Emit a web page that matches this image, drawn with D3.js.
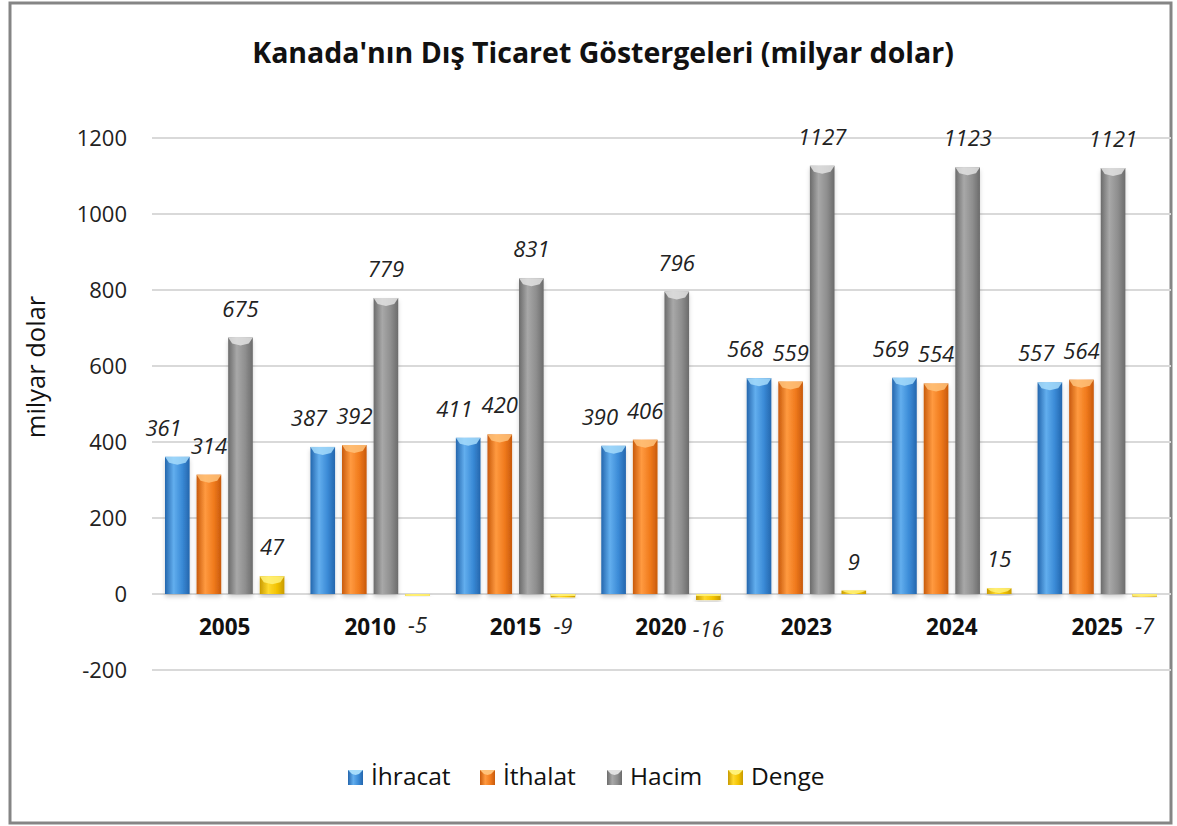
<!DOCTYPE html>
<html><head><meta charset="utf-8">
<script src="https://cdn.jsdelivr.net/npm/d3@7"></script>
<style>body{margin:0;background:#fff;}svg{display:block;}</style>
</head><body>
<script>
const categories = ["2005","2010","2015","2020","2023","2024","2025"];
const seriesNames = ["İhracat","İthalat","Hacim","Denge"];
const ihracat = [361,387,411,390,568,569,557];
const ithalat = [314,392,420,406,559,554,564];
const hacim = [675,779,831,796,1127,1123,1121];
const denge = [47,-5,-9,-16,9,15,-7];
const yTicks = [-200,0,200,400,600,800,1000,1200];
const seriesValues = [ihracat, ithalat, hacim, denge];

const colors = [
  {base:"#3a8ad6", dark:"#2466ad", light:"#62aeee", top:"#a6dcfb"},
  {base:"#f07a1c", dark:"#c85a0c", light:"#ff9a40", top:"#ffc27a"},
  {base:"#8e8e8e", dark:"#6b6b6b", light:"#a8a8a8", top:"#e2e2e2"},
  {base:"#f2c200", dark:"#c89a00", light:"#ffd92e", top:"#fff27a"}
];

const W=1177,H=826;
const svg=d3.select("body").append("svg").attr("width",W).attr("height",H);
const defs=svg.append("defs");
colors.forEach((c,i)=>{
  const g=defs.append("linearGradient").attr("id","g"+i).attr("x1","0").attr("x2","1").attr("y1","0").attr("y2","0");
  g.append("stop").attr("offset","0%").attr("stop-color",c.dark);
  g.append("stop").attr("offset","35%").attr("stop-color",c.light);
  g.append("stop").attr("offset","70%").attr("stop-color",c.base);
  g.append("stop").attr("offset","100%").attr("stop-color",c.dark);
});
const f=defs.append("filter").attr("id","sh").attr("x","-20%").attr("y","-20%").attr("width","140%").attr("height","140%");
f.append("feDropShadow").attr("dx",0).attr("dy",3).attr("stdDeviation",2).attr("flood-color","#000").attr("flood-opacity",0.18);

// border
svg.append("rect").attr("x",10).attr("y",3).attr("width",1161).attr("height",820)
  .attr("fill","#fff").attr("stroke","#858585").attr("stroke-width",3);

const font="Open Sans, Noto Sans, sans-serif";

svg.append("text").attr("x",603).attr("y",63).attr("text-anchor","middle")
  .attr("font-family",font).attr("font-weight","bold").attr("font-size",28.5).attr("fill","#111")
  .text("Kanada'nın Dış Ticaret Göstergeleri (milyar dolar)");

const y=d3.scaleLinear().domain([-200,1200]).range([670,138]);
const x0=d3.scaleBand().domain(categories).range([152,1170]).padding(0);
const x1=d3.scaleBand().domain(seriesNames).range([13,132.4]).paddingInner(0.22).paddingOuter(0);

// grid
svg.append("g").selectAll("line").data(yTicks).join("line")
  .attr("x1",152).attr("x2",1171).attr("y1",d=>y(d)).attr("y2",d=>y(d))
  .attr("stroke","#d9d9d9").attr("stroke-width",2);

// y axis
const yAxis=d3.axisLeft(y).tickValues(yTicks).tickFormat(d=>String(d)).tickSize(0).tickPadding(0);
const ga=svg.append("g").attr("transform","translate(127,0)").call(yAxis);
ga.select(".domain").remove();
ga.selectAll("text").attr("font-family",font).attr("font-size",22).attr("fill","#222").attr("dy","0.36em");

svg.append("text").attr("transform","translate(45,367) rotate(-90)").attr("text-anchor","middle")
  .attr("font-family",font).attr("font-size",25.5).attr("fill","#111").text("milyar dolar");

// bars
const groups=svg.append("g").selectAll("g").data(categories).join("g")
  .attr("transform",d=>`translate(${x0(d)},0)`);
const labelRefs=categories.map(()=>[]);
seriesNames.forEach((s,si)=>{
  groups.each(function(cat,ci){
    const v=seriesValues[si][ci];
    const g=d3.select(this);
    const bx=x1(s), bw=x1.bandwidth();
    const top=Math.min(y(v),y(0)), h=Math.abs(y(v)-y(0));
    g.append("rect").attr("x",bx).attr("y",top).attr("width",bw).attr("height",Math.max(h,2))
      .attr("fill",`url(#g${si})`).attr("filter","url(#sh)");
    const bh=Math.min(6,h/2);
    if(v>=0){
      g.append("path").attr("d",`M${bx},${top} L${bx+bw},${top} L${bx+bw-4},${top+bh} L${bx+bw/2},${top+bh+2} L${bx+4},${top+bh} Z`)
        .attr("fill",colors[si].top).attr("opacity",0.85);
    } else {
      g.append("rect").attr("x",bx).attr("y",top).attr("width",bw).attr("height",2).attr("fill",colors[si].top).attr("opacity",0.9);
    }
    const ly = v>=0 ? y(v)-21 : y(v)+37;
    const t=g.append("text").attr("x",bx+bw/2).attr("y",ly).attr("text-anchor","middle")
      .attr("font-family",font).attr("font-style","italic").attr("font-size",22).attr("fill","#222").text(v);
    labelRefs[ci][si]=t;
  });
});
// nudge overlapping İhracat labels left of İthalat labels
labelRefs.forEach(refs=>{
  const a=refs[0], b=refs[1];
  const ya=+a.attr("y"), yb=+b.attr("y");
  if(Math.abs(ya-yb)<22){
    const wa=a.node().getComputedTextLength(), wb=b.node().getComputedTextLength();
    const aRight=+a.attr("x")+wa/2, bLeft=+b.attr("x")-wb/2;
    const gap=9;
    if(aRight>bLeft-gap) a.attr("x",+a.attr("x")-(aRight-(bLeft-gap)));
  }
});

// category labels
const xAxis=d3.axisBottom(x0).tickSize(0).tickPadding(0);
const gx=svg.append("g").attr("transform","translate(0,635)").call(xAxis);
gx.select(".domain").remove();
gx.selectAll("text").attr("font-family",font).attr("font-weight","bold").attr("font-size",22.5).attr("fill","#111").attr("dy","0");

// legend
const legX=[348,480,607,728];
const leg=svg.append("g");
seriesNames.forEach((s,i)=>{
  const gg=leg.append("g").attr("transform",`translate(${legX[i]},770)`);
  gg.append("rect").attr("width",15).attr("height",15).attr("fill",`url(#g${i})`);
  gg.append("path").attr("d","M0,0 L15,0 L11,4 L7.5,5 L4,4 Z").attr("fill",colors[i].top);
  gg.append("text").attr("x",23).attr("y",15).attr("font-family",font).attr("font-size",24.5).attr("fill","#111").text(s);
});
</script>
</body></html>
